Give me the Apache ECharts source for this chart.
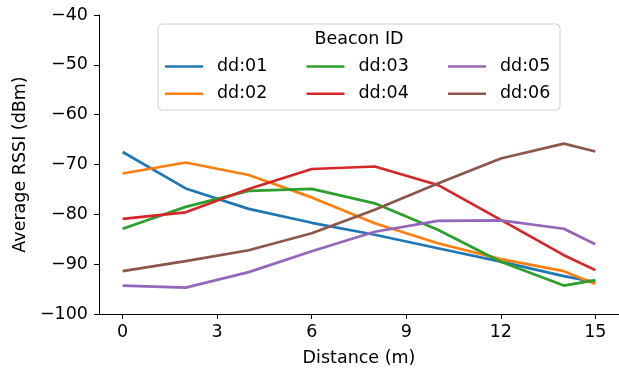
<!DOCTYPE html>
<html>
<head>
<meta charset="utf-8">
<script src="https://cdn.jsdelivr.net/npm/echarts@6/dist/echarts.min.js"></script>
<style>
  html, body { margin: 0; padding: 0; background: #fff; }
  #chart { width: 619px; height: 373px; }
</style>
</head>
<body>
<div id="chart"></div>
<script>
// distances (m) where each beacon was measured
const distances = [0, 2, 4, 6, 8, 10, 12, 14, 15];
const xTicks = [0, 3, 6, 9, 12, 15];
const beaconNames = ['dd:01', 'dd:02', 'dd:03', 'dd:04', 'dd:05', 'dd:06'];
const dd01 = [-67.5, -74.8, -78.9, -81.7, -84.1, -86.8, -89.5, -92.4, -93.6];
const dd02 = [-71.8, -69.6, -72.1, -76.6, -81.8, -85.8, -89.0, -91.4, -94.0];
const dd03 = [-82.9, -78.5, -75.3, -74.9, -77.8, -83.1, -89.5, -94.3, -93.2];
const dd04 = [-80.9, -79.6, -74.9, -70.9, -70.4, -74.1, -81.1, -88.2, -91.2];
const dd05 = [-94.3, -94.7, -91.6, -87.4, -83.5, -81.3, -81.2, -82.9, -86.0];
const dd06 = [-91.4, -89.4, -87.2, -83.8, -79.1, -73.8, -68.8, -65.8, -67.4];
const rssi = [dd01, dd02, dd03, dd04, dd05, dd06];
const colors = ['#1f77b4', '#ff7f0e', '#2ca02c', '#d62728', '#9467bd', '#8c564b'];

const font = 'DejaVu Sans';
const fs = 17.5;
const minus = v => String(v).replace('-', '\u2212');

const chart = echarts.init(document.getElementById('chart'));

const legendCol = (names, left) => ({
  orient: 'vertical',
  left: left,
  top: 56.5,
  padding: 0,
  itemGap: 7.3,
  itemWidth: 38,
  itemHeight: 2.6,
  icon: 'rect',
  z: 5,
  data: names,
  textStyle: { fontFamily: font, fontSize: fs, color: '#000', lineHeight: 20, padding: [0, 0, 0, 9] }
});

chart.setOption({
  animation: false,
  color: colors,
  textStyle: { fontFamily: font },
  grid: { left: 99, top: 15, width: 522.5, height: 299 },
  xAxis: {
    type: 'value',
    min: -0.75,
    max: 15.75,
    name: 'Distance (m)',
    nameLocation: 'middle',
    nameGap: 35,
    nameTextStyle: { fontFamily: font, fontSize: fs, color: '#000' },
    splitLine: { show: false },
    axisLine: { onZero: false, lineStyle: { color: '#000', width: 1 } },
    axisTick: { inside: false, length: 5, lineStyle: { color: '#000' }, customValues: xTicks },
    axisLabel: { customValues: xTicks, margin: 9, fontFamily: font, fontSize: fs, color: '#000' }
  },
  yAxis: {
    type: 'value',
    min: -100,
    max: -40,
    interval: 10,
    name: 'Average RSSI (dBm)',
    nameLocation: 'middle',
    nameGap: 69,
    nameTextStyle: { fontFamily: font, fontSize: fs, color: '#000' },
    splitLine: { show: false },
    axisLine: { show: true, onZero: false, lineStyle: { color: '#000', width: 1 } },
    axisTick: { show: true, length: 5, lineStyle: { color: '#000' } },
    axisLabel: { margin: 11, fontFamily: font, fontSize: fs, color: '#000', formatter: minus }
  },
  graphic: [
    {
      type: 'rect',
      shape: { x: 158, y: 24, width: 402, height: 86, r: 4 },
      style: { fill: 'rgba(255,255,255,0.8)', stroke: '#d0d0d0', lineWidth: 1 },
      z: 3
    },
    {
      type: 'text',
      x: 359, y: 39,
      style: { text: 'Beacon ID', fontFamily: font, fontSize: fs, fill: '#000', align: 'center', verticalAlign: 'middle' },
      z: 4
    }
  ],
  legend: [
    legendCol(['dd:01', 'dd:02'], 165),
    legendCol(['dd:03', 'dd:04'], 306.5),
    legendCol(['dd:05', 'dd:06'], 448)
  ],
  series: beaconNames.map((name, i) => ({
    name: name,
    type: 'line',
    symbol: 'none',
    lineStyle: { width: 2.7 },
    data: distances.map((d, j) => [d, rssi[i][j]])
  }))
});
</script>
</body>
</html>
